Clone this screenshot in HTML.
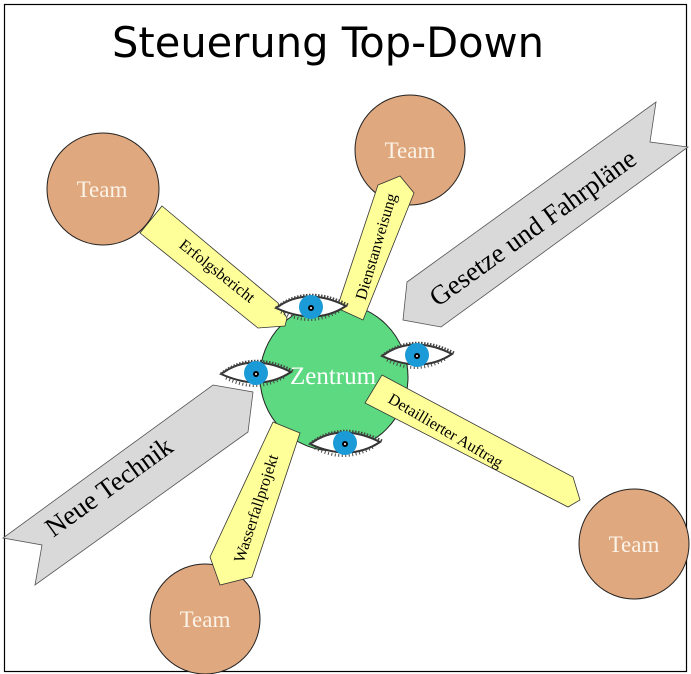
<!DOCTYPE html>
<html><head><meta charset="utf-8"><style>
html,body{margin:0;padding:0;background:#fff;}
svg{display:block;}
</style></head><body>
<svg width="691" height="674" viewBox="0 0 691 674" xmlns="http://www.w3.org/2000/svg">
<defs>
<g id="eye">
  <path d="M-35,0 Q-5,-22 35,-2 Q5,18 -35,0 Z" fill="#fff" stroke="#333" stroke-width="2"/>
  <path d="M-35,0 Q-5,-24 37,-3" fill="none" stroke="#444" stroke-width="3" stroke-dasharray="1.5,1.5"/>
  <path d="M-30,4 Q0,20 30,2" fill="none" stroke="#444" stroke-width="3" stroke-dasharray="1,2.5"/>
  <circle cx="0" cy="-1" r="12" fill="#1a9ad6"/>
  <circle cx="0" cy="0" r="3" fill="#000"/>
  <circle cx="0" cy="0" r="1" fill="#fff"/>
</g>
</defs>
<rect x="4.5" y="4.5" width="682" height="667" fill="#fff" stroke="#000" stroke-width="1.2"/>
<text x="112" y="57" font-family="'DejaVu Sans Condensed','DejaVu Sans',sans-serif" font-size="42" textLength="432" lengthAdjust="spacingAndGlyphs" fill="#000">Steuerung Top-Down</text>

<polygon points="407,282 656,102 650,142 688,147 441,327 403,320" fill="#d9d9d9" stroke="#555" stroke-width="0.8"/>
<polygon points="213,385 253,392 248,432 35,585 42,545 3,538" fill="#d9d9d9" stroke="#555" stroke-width="0.8"/>
<text transform="translate(538,235) rotate(-35.8)" text-anchor="middle" font-family="'Liberation Serif',serif" font-size="27">Gesetze und Fahrpläne</text>
<text transform="translate(114,494) rotate(-35.8)" text-anchor="middle" font-family="'Liberation Serif',serif" font-size="27">Neue Technik</text>

<g fill="#e0a87e" stroke="#222" stroke-width="1">
<circle cx="103" cy="189" r="56"/>
<circle cx="410" cy="150" r="55"/>
<circle cx="634" cy="544" r="55"/>
<circle cx="205" cy="619" r="55"/>
</g>
<g font-family="'Liberation Serif',serif" font-size="23" fill="#fbf3e8" text-anchor="middle">
<text x="102" y="197">Team</text>
<text x="410" y="158">Team</text>
<text x="634" y="552">Team</text>
<text x="205" y="627">Team</text>
</g>

<circle cx="334" cy="377" r="74" fill="#5cd981" stroke="#222" stroke-width="1"/>
<text x="333" y="384" text-anchor="middle" font-family="'Liberation Serif',serif" font-size="25" fill="#fff">Zentrum</text>

<g fill="#ffff99" stroke="#333" stroke-width="0.8">
<polygon points="162,206 278,303 287,318 285,326 258,328 140,233"/>
<polygon points="337,308 378,185 400,176 414,193 363,320"/>
<polygon points="382,375 573,477 580,500 568,507 365,403"/>
<polygon points="273,422 300,433 252,577 220,585 210,557"/>
</g>
<g font-family="'Liberation Serif',serif" font-size="16" fill="#000" text-anchor="middle">
<text transform="translate(214,275) rotate(38.4)">Erfolgsbericht</text>
<text transform="translate(381,248) rotate(-73.5)">Dienstanweisung</text>
<text transform="translate(443,435) rotate(30.6)">Detaillierter Auftrag</text>
<text transform="translate(261,510) rotate(-72)">Wasserfallprojekt</text>
</g>

<use href="#eye" transform="translate(311,308)"/>
<use href="#eye" transform="translate(256,374)"/>
<use href="#eye" transform="translate(417,356)"/>
<use href="#eye" transform="translate(345,444)"/>
</svg>
</body></html>
